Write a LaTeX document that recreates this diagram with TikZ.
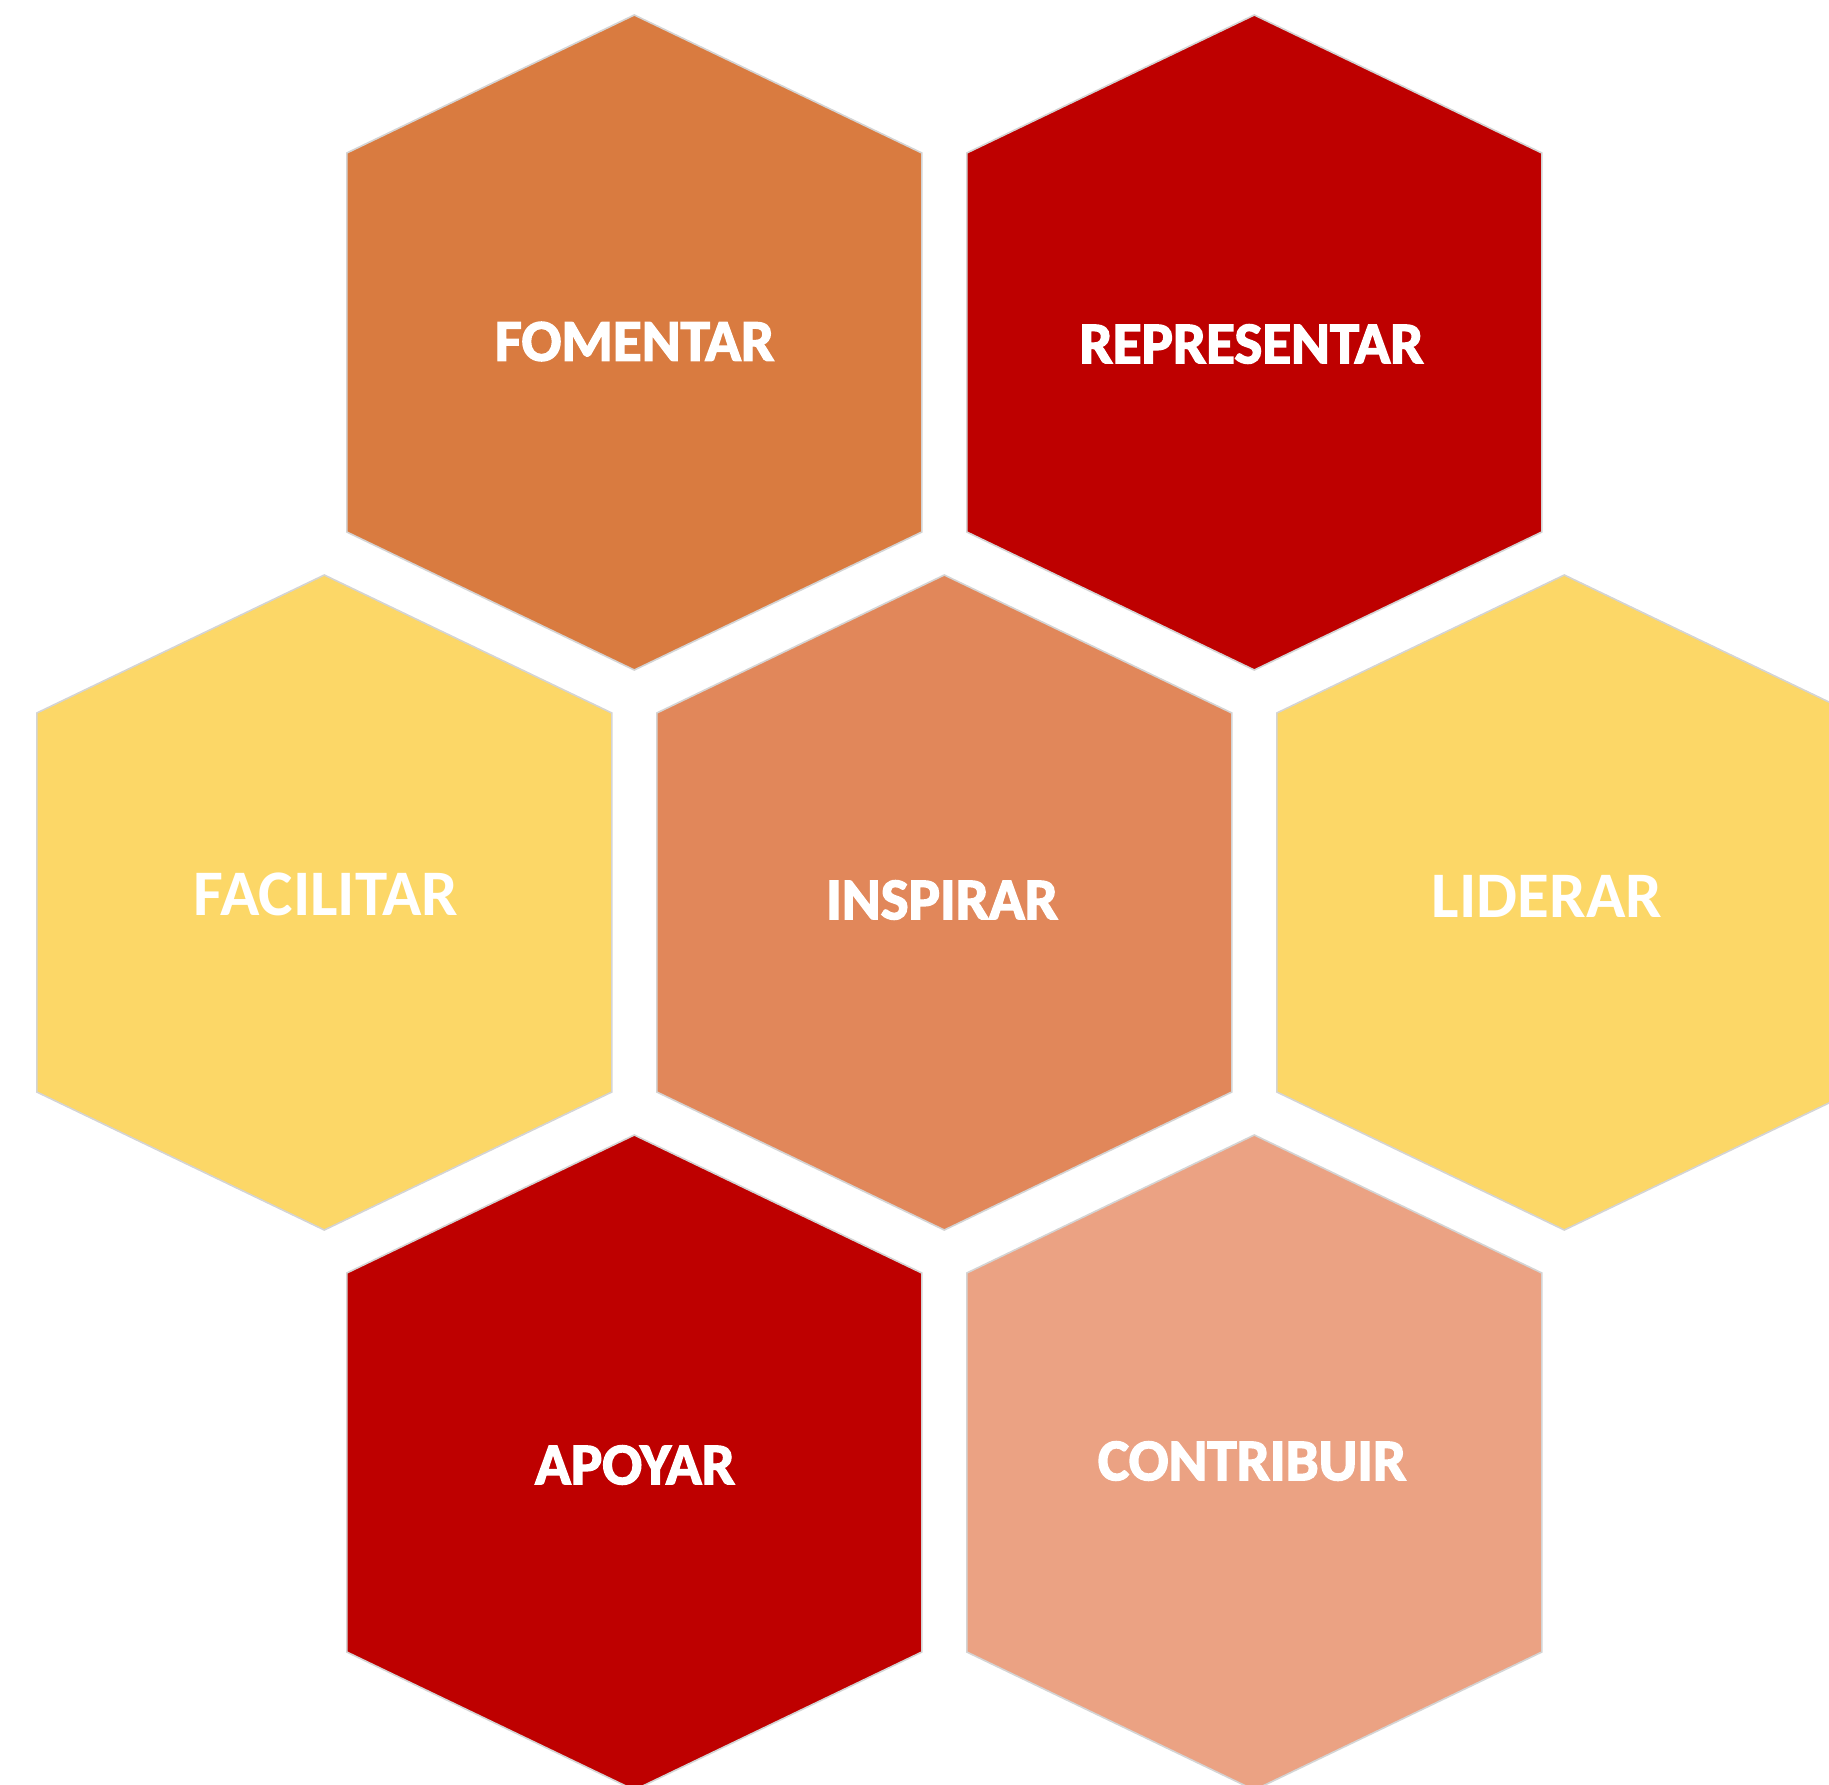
\documentclass[tikz,border=0pt]{standalone}
\usepackage{fontspec}
\setmainfont{Carlito}
\newfontfamily\heavyfont{Carlito}[BoldFeatures={FakeBold=2.5}]
\definecolor{cOrange}{HTML}{D97B40}
\definecolor{cRed}{HTML}{BE0000}
\definecolor{cYellow}{HTML}{FCD767}
\definecolor{cMid}{HTML}{E1875A}
\definecolor{cPeach}{HTML}{EBA283}
\definecolor{hexline}{HTML}{D4D4D4}
\tikzset{
  hexcell/.style={line width=1.6pt, draw=hexline},
  bigword/.style={text=white, font=\bfseries\fontsize{65}{69}\selectfont, inner sep=0pt},
  smallword/.style={text=white, font=\heavyfont\bfseries\fontsize{59}{63}\selectfont, inner sep=0pt}
}
\newcommand{\hexshape}[4]{% name, cx, cy, colour
  \path[hexcell, fill=#4] (#2-287.5,#3-189.5) -- (#2,#3-327.5) -- (#2+287.5,#3-189.5)
     -- (#2+287.5,#3+189.5) -- (#2,#3+327.5) -- (#2-287.5,#3+189.5) -- cycle;
  \coordinate (#1) at (#2,#3);
}
\begin{document}
\begin{tikzpicture}[x=1pt,y=-1pt]
\useasboundingbox (0,0) rectangle (1829,1785);
\fill[white] (0,0) rectangle (1829,1785);
\hexshape{hA}{634.3}{342.5}{cOrange}
\hexshape{hB}{1254.3}{342.5}{cRed}
\hexshape{hC}{324.3}{902.5}{cYellow}
\hexshape{hD}{944.3}{902.5}{cMid}
\hexshape{hE}{1564.3}{902.5}{cYellow}
\hexshape{hF}{634.3}{1462.5}{cRed}
\hexshape{hG}{1254.3}{1462.5}{cPeach}
\node[smallword] (tA) at (634.5,341.5) {FOMENTAR};
\node[smallword] (tB) at (1251.5,344) {REPRESENTAR};
\node[bigword] (tC) at (326,894.5) {FACILITAR};
\node[smallword] (tD) at (942,900) {INSPIRAR};
\node[bigword] (tE) at (1547,896) {LIDERAR};
\node[smallword] (tF) at (635,1465) {APOYAR};
\node[smallword] (tG) at (1252,1461) {CONTRIBUIR};
\end{tikzpicture}
\end{document}
